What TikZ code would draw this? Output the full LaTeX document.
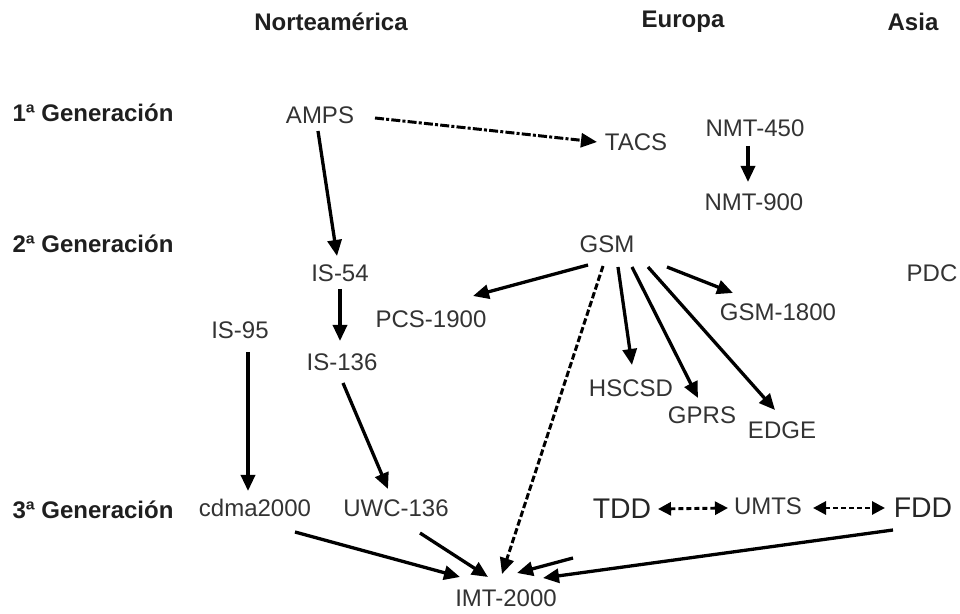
\documentclass[tikz,border=0pt]{standalone}
\usepackage{fontspec}
\setmainfont{Liberation Sans}
\usetikzlibrary{arrows.meta,calc}
\begin{document}
\begin{tikzpicture}[x=0.5pt,y=-0.5pt,
  lbl/.style={font=\fontsize{12}{14}\selectfont, text=black!80, inner sep=0pt},
  biglbl/.style={font=\fontsize{14.2}{16}\selectfont, text=black!85, inner sep=0pt},
  head/.style={font=\bfseries\fontsize{12}{14}\selectfont, text=black!88, inner sep=0pt},
  arr/.style={line width=1.65pt, -{Triangle[length=8pt,width=7pt]}},
  dasharr/.style={arr, line width=1.5pt, dash pattern=on 3.2pt off 1.4pt},
  dotdasharr/.style={arr, line width=1.5pt, dash pattern=on 4.5pt off 1.1pt on 1.5pt off 1.1pt},
  twoway/.style={line width=1.45pt, dash pattern=on 2.6pt off 1.4pt,
    {Triangle[length=6.5pt,width=6.5pt]}-{Triangle[length=6.5pt,width=6.5pt]}}]
\useasboundingbox (0,0) rectangle (960,614);

% column and row headings
\node[head] (na) at (331,22) {Norteamérica};
\node[head] (eu) at (683,22) {Europa};
\node[head] (as) at (913,22) {Asia};
\node[head] (gen1) at (93,113) {1ª Generación};
\node[head] (gen2) at (93,244) {2ª Generación};
\node[head] (gen3) at (93,510) {3ª Generación};

% systems
\node[lbl] (amps) at (320,115) {AMPS};
\node[lbl] (tacs) at (636,142) {TACS};
\node[lbl] (nmt450) at (755,128) {NMT-450};
\node[lbl] (nmt900) at (754,202) {NMT-900};
\node[lbl] (gsm) at (607,244) {GSM};
\node[lbl] (pdc) at (932,273) {PDC};
\node[lbl] (is54) at (340,273) {IS-54};
\node[lbl] (pcs) at (431,319) {PCS-1900};
\node[lbl] (gsm1800) at (778,312) {GSM-1800};
\node[lbl] (is95) at (240,330) {IS-95};
\node[lbl] (is136) at (342,362) {IS-136};
\node[lbl] (hscsd) at (631,388) {HSCSD};
\node[lbl] (gprs) at (702,415) {GPRS};
\node[lbl] (edge) at (782,430) {EDGE};
\node[lbl] (cdma) at (255,508) {cdma2000};
\node[lbl] (uwc) at (396,508) {UWC-136};
\node[biglbl] (tdd) at (622,509) {TDD};
\node[lbl] (umts) at (768,506) {UMTS};
\node[biglbl] (fdd) at (923,508) {FDD};
\node[lbl] (imt) at (506,598) {IMT-2000};

% evolution links
\draw[dotdasharr] ($(amps)+(55,3)$) -- ($(tacs)+(-39,0)$);
\draw[arr] ($(amps)+(-2,16)$) -- ($(is54)+(-3,-17)$);
\draw[arr] ($(nmt450)+(-7,18)$) -- ($(nmt900)+(-6,-20)$);
\draw[arr] ($(is54)+(0,16)$) -- ($(is136)+(-2,-21)$);
\draw[arr] ($(is95)+(8,22)$) -- ($(cdma)+(-7,-17)$);
\draw[arr] ($(is136)+(1,21)$) -- ($(uwc)+(-8,-19)$);

\draw[arr] ($(gsm)+(-19,21)$) -- ($(pcs)+(42,-23)$);
\draw[dasharr] ($(gsm)+(-4,22)$) -- ($(imt)+(-4,-24)$);
\draw[arr] ($(gsm)+(11,23)$) -- ($(hscsd)+(1,-23)$);
\draw[arr] ($(gsm)+(25,23)$) -- ($(gprs)+(-4,-17)$);
\draw[arr] ($(gsm)+(41,23)$) -- ($(edge)+(-7,-20)$);
\draw[arr] ($(gsm)+(60,23)$) -- ($(gsm1800)+(-45,-19)$);

\draw[arr] ($(cdma)+(40,24)$) -- ($(imt)+(-46,-21)$);
\draw[arr] ($(uwc)+(24,25)$) -- ($(imt)+(-18,-21)$);
\draw[arr] ($(fdd)+(-30,22)$) -- ($(imt)+(37,-20)$);
\coordinate (stub) at ($(imt)+(67,-40)$);
\draw[arr] (stub) -- ($(imt)+(11,-25)$);

\draw[twoway] ($(tdd)+(36,0)$) -- ($(umts)+(-40,2)$);
\draw[twoway] ($(umts)+(45,2)$) -- ($(fdd)+(-38,0)$);
\end{tikzpicture}
\end{document}
